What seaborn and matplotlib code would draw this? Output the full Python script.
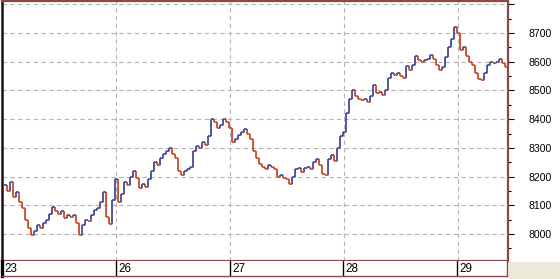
import numpy as np
import pandas as pd
import matplotlib
matplotlib.use("Agg")
import matplotlib.pyplot as plt
import matplotlib.transforms as mtransforms
from matplotlib.patches import Rectangle
import seaborn as sns

# ---- data (closing prices, one bar per step) ----
day_labels = ["23", "26", "27", "28", "29"]
day23 = [8170, 8150, 8180, 8130, 8145, 8110, 8090, 8050, 8020, 7995,
         8010, 8030, 8020, 8040, 8050, 8070, 8095, 8080, 8070, 8080,
         8055, 8065, 8060, 8065, 8040, 7995, 8030, 8050, 8045, 8065,
         8085, 8090, 8110, 8145, 8060, 8035, 8120, 8190]
day26 = [8110, 8140, 8180, 8170, 8200, 8220, 8195, 8160, 8175, 8165,
         8190, 8220, 8250, 8240, 8265, 8280, 8290, 8300, 8280, 8265,
         8220, 8205, 8220, 8225, 8235, 8290, 8305, 8300, 8320, 8310,
         8340, 8400, 8390, 8370, 8380, 8400, 8390, 8370]
day27 = [8320, 8330, 8345, 8355, 8365, 8350, 8330, 8290, 8265, 8245,
         8235, 8225, 8240, 8235, 8225, 8200, 8205, 8195, 8190, 8175,
         8200, 8225, 8230, 8215, 8230, 8235, 8225, 8250, 8260, 8240,
         8210, 8205, 8260, 8275, 8255, 8300, 8340, 8355]
day28 = [8420, 8470, 8500, 8480, 8470, 8465, 8470, 8460, 8480, 8520,
         8490, 8495, 8485, 8500, 8545, 8560, 8555, 8560, 8550, 8545,
         8585, 8570, 8590, 8620, 8605, 8600, 8605, 8610, 8625, 8610,
         8590, 8570, 8580, 8615, 8650, 8680, 8720, 8700]
day29 = [8640, 8650, 8620, 8600, 8590, 8560, 8540, 8535, 8560, 8590,
         8600, 8595, 8600, 8610, 8595, 8580]
bars_per_day = 38
y_ticks = [8000, 8100, 8200, 8300, 8400, 8500, 8600, 8700, 8800]
y_tick_labels = ["8000", "8100", "8200", "8300", "8400", "8500", "8600", "8700", ""]

days = [day23, day26, day27, day28, day29]
closes = [v for d in days for v in d]
df = pd.DataFrame({"x": np.arange(len(closes)), "close": closes})
df["open"] = df["close"].shift(1).fillna(df["close"])
df["up"] = df["close"] >= df["open"]

UP = "#4a4c98"
DOWN = "#c8502c"
BROWN = "#8c4848"
GRID = "#b4b4b4"

sns.set_theme(style="white")
plt.rcParams["font.family"] = ["Liberation Sans", "DejaVu Sans"]

W, H = 560, 279
fig = plt.figure(figsize=(W / 100, H / 100), dpi=100, facecolor="white")
ax = fig.add_axes([2 / W, 18 / H, 506 / W, 260 / H])
ax.set_facecolor("white")

# price path drawn as a thin step line plus coloured bars
sns.lineplot(data=df, x="x", y="close", drawstyle="steps-post", ax=ax,
             color=DOWN, lw=0.6, alpha=0.5, legend=False)
cols = np.where(df["up"], UP, DOWN)
ax.vlines(df["x"], df["open"], df["close"], colors=cols, lw=1.3)
ax.hlines(df["close"], df["x"], df["x"] + 1, colors=cols, lw=1.2)

x0 = -0.5
ax.set_xlim(x0, x0 + 506 / 3)
ax.set_ylim(8000 - 27 * 700 / 201, 8700 + 32 * 700 / 201)

# grid
ax.set_yticks(y_ticks)
ax.set_yticklabels(y_tick_labels)
ax.set_yticks([t - 50 for t in y_ticks], minor=True)
ax.yaxis.grid(True, which="major", color=GRID, lw=0.8, linestyle=(0, (4, 3)))
bounds = [x0 + bars_per_day * i for i in range(1, len(days))]
for b in bounds:
    ax.axvline(b, color=GRID, lw=0.8, linestyle=(0, (4, 3)), zorder=0)

ax.yaxis.tick_right()
ax.tick_params(axis="y", which="major", direction="out", length=4.5, width=0.8,
               color="black", pad=10.5, labelsize=7.6, labelcolor="black", right=True)
ax.tick_params(axis="y", which="minor", direction="out", length=2, width=0.8,
               color="black", right=True)
ax.set_xticks([])
ax.set_xlabel("")
ax.set_ylabel("")
for s in ["top", "right", "bottom"]:
    ax.spines[s].set_color(BROWN)
    ax.spines[s].set_linewidth(1.6)
ax.spines["left"].set_color("#201010")
ax.spines["left"].set_linewidth(1.8)

# date strip under the chart
sx = fig.add_axes([2 / W, 3 / H, 505 / W, 15 / H], sharex=ax)
sx.set_facecolor("white")
sx.set_ylim(0, 1)
sx.set_yticks([])
sx.tick_params(axis="x", bottom=False, labelbottom=False)
sx.spines["top"].set_visible(False)
sx.spines["bottom"].set_color(BROWN)
sx.spines["bottom"].set_linewidth(1.0)
sx.spines["right"].set_color(BROWN)
sx.spines["right"].set_linewidth(1.0)
sx.spines["left"].set_color("black")
sx.spines["left"].set_linewidth(2.4)
starts = [x0 + bars_per_day * i for i in range(len(days))]
offset = mtransforms.offset_copy(sx.transData, fig=fig, x=2.5, y=0, units="dots")
for st, lab in zip(starts, day_labels):
    if st > x0:
        sx.axvline(st, color="black", lw=1.0)
    sx.text(st, 0.45, lab, transform=offset, ha="left", va="center",
            fontsize=8.4, color="black")

fig.patches.append(Rectangle((509 / W, 0), 51 / W, 17 / H, transform=fig.transFigure,
                             facecolor="#ece9d8", edgecolor="none", zorder=-1))

fig.savefig("out.png", dpi=100, facecolor="white")
